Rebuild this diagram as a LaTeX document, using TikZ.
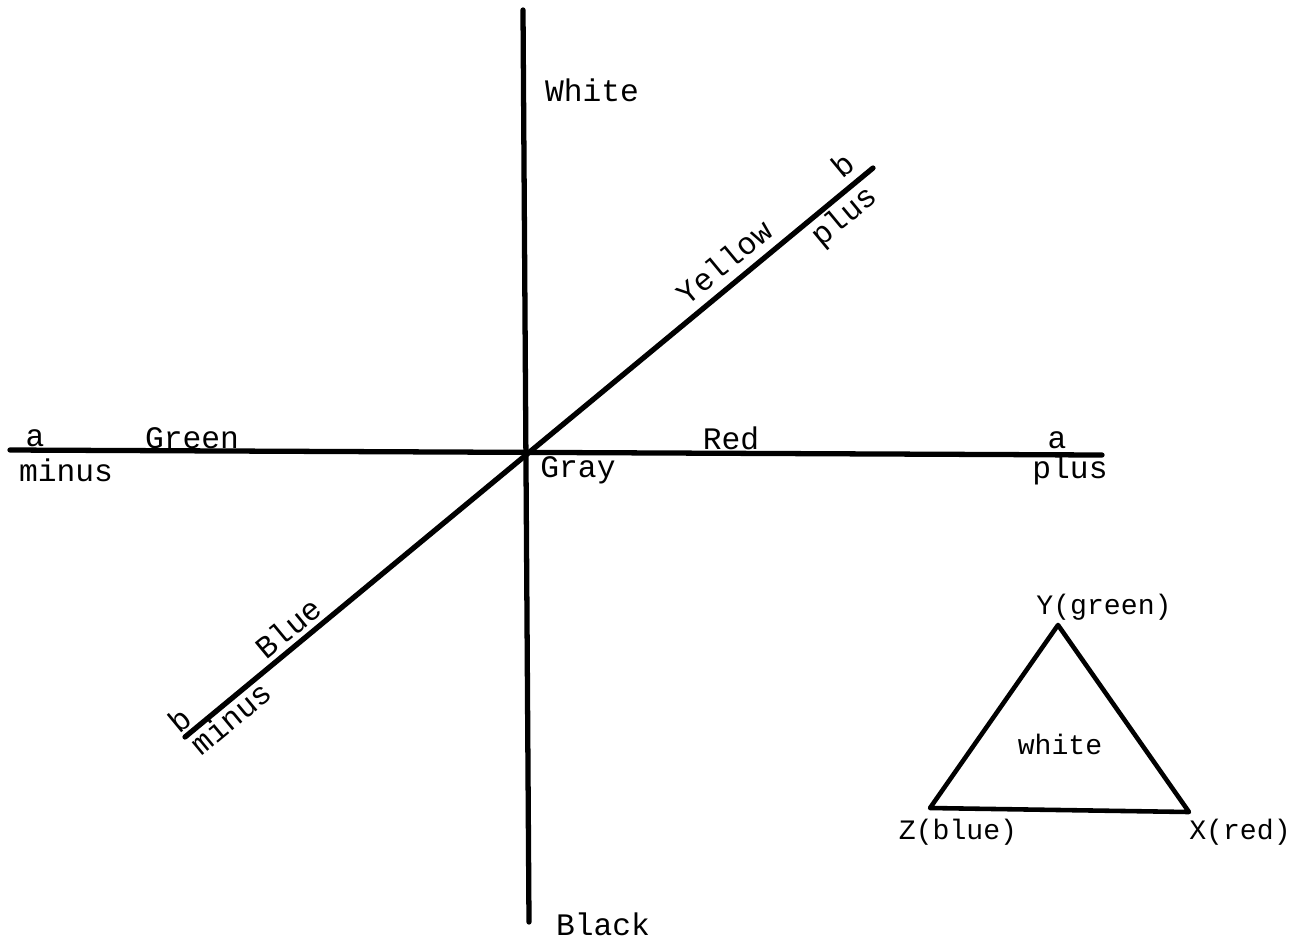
\documentclass[tikz,border=0pt]{standalone}
\usepackage{fontspec}
\setmonofont{Liberation Mono}
\usetikzlibrary{positioning}

\begin{document}
\begin{tikzpicture}[
    x=0.01cm, y=-0.01cm,
    axis/.style={line width=1.5pt,line cap=round},
    tri/.style={line width=1.3pt,line join=round},
    lbl/.style={font=\ttfamily\fontsize{8.9}{10}\selectfont,inner sep=0pt},
    vlbl/.style={font=\ttfamily\fontsize{8}{9}\selectfont,inner sep=0pt},
    slant/.style={lbl,rotate=39.6}
  ]
    \useasboundingbox (0,0) rectangle (1293,938);
    \coordinate (top) at (523,10);
    \coordinate (bottom) at (529,922);
    \coordinate (left) at (10,450);
    \coordinate (right) at (1102,455);
    \coordinate (bminus) at (185,737);
    \coordinate (bplus) at (873,168);
    \draw[axis] (top) -- (bottom);
    \draw[axis] (left) -- (right);
    \draw[axis] (bminus) -- (bplus);

    \node[lbl] (white) at (592,90) {White};
    \node[lbl] (black) at (603,924) {Black};
    \node[lbl] (gray) at (578,470) {Gray};
    \node[lbl] (green) at (192,438) {Green};
    \node[lbl] (red) at (731,438) {Red};
    \node[lbl] (aminus) at (35,438) {a};
    \node[lbl] (minus) at (66,470) {minus};
    \node[lbl] (aplus) at (1057,440) {a};
    \node[lbl] (plus) at (1070,470) {plus};

    \node[slant] (yellow) at (724,262) {Yellow};
    \node[slant] (bup) at (843,165) {b};
    \node[slant] (bupplus) at (845,217) {plus};
    \node[slant] (blue) at (288,628) {Blue};
    \node[slant] (bdown) at (180,720) {b};
    \node[slant] (bdownminus) at (231,718) {minus};

    \coordinate (Y) at (1058,625);
    \coordinate (Z) at (930,808);
    \coordinate (X) at (1189,812);
    \draw[tri] (Y) -- (X) -- (Z) -- cycle;
    \node[vlbl] (ylbl) at (1104,607) {Y(green)};
    \node[vlbl] (zlbl) at (958,832) {Z(blue)};
    \node[vlbl] (xlbl) at (1240,832) {X(red)};
    \node[vlbl] (wlbl) at (1060,744) {white};
\end{tikzpicture}
\end{document}
